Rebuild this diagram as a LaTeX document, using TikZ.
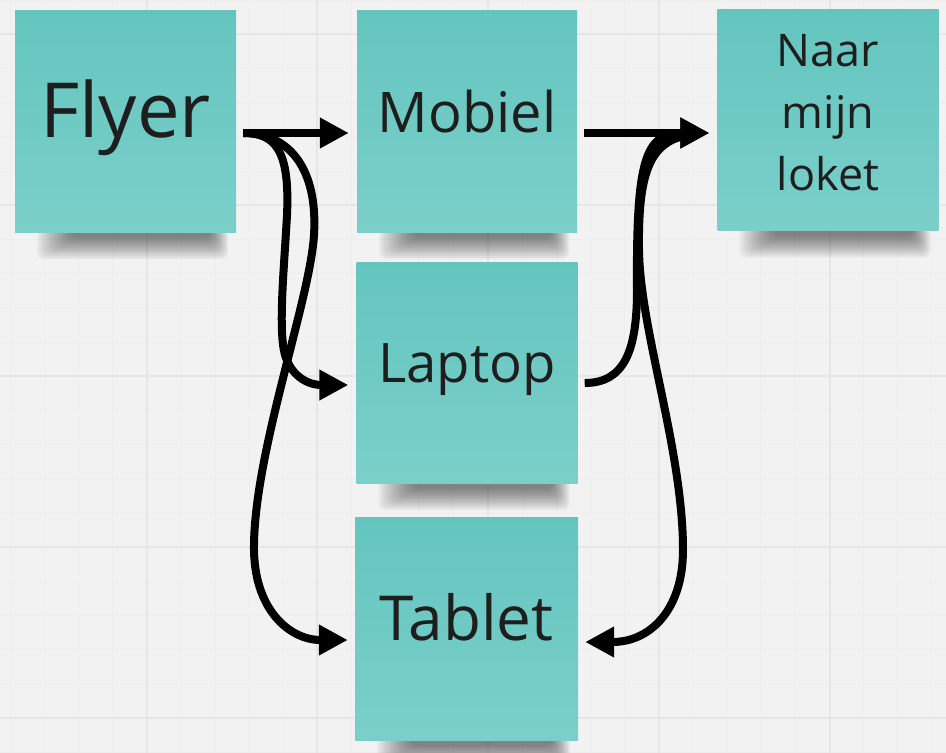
\documentclass[tikz,border=0pt]{standalone}
\usepackage{fontspec}
\setmainfont{Open Sans}
\usetikzlibrary{arrows.meta}
\pgfdeclarelayer{back}
\pgfdeclarelayer{shadowlayer}
\pgfsetlayers{back,shadowlayer,main}
\definecolor{bg}{HTML}{F2F2F2}
\definecolor{gridminor}{HTML}{EDEDED}
\definecolor{gridmajor}{HTML}{E6E6E6}
\definecolor{notetop}{HTML}{64C5BF}
\definecolor{notebot}{HTML}{7BCFC9}
\definecolor{ink}{HTML}{1E1E1E}
\begin{document}
\begin{tikzpicture}[x=1pt,y=-1pt,
  note/.style={shade, top color=notetop, bottom color=notebot, inner sep=0pt, text=ink},
  shadowpiece/.style={fill=black, fill opacity=0.034, rounded corners=7pt},
  conn/.style={line width=8pt, draw=black, -{Triangle[length=29pt,width=29pt]}},
  gminor/.style={draw=gridminor, line width=1pt},
  gmajor/.style={draw=gridmajor, line width=1.5pt}]
\useasboundingbox (0,0) rectangle (946,753);
\begin{pgfonlayer}{back}
\fill[bg] (0,0) rectangle (946,753);
\foreach \i in {0,...,27} \draw[gminor] ({10.6+34.1*\i},0) -- ++(0,753);
\foreach \i in {0,...,22} \draw[gminor] (0,{34.2*\i}) -- ++(946,0);
\foreach \x in {147,317,488,659,830} \draw[gmajor] (\x,0) -- (\x,753);
\foreach \y in {34,205,376,547,718} \draw[gmajor] (0,\y) -- (946,\y);
\end{pgfonlayer}

\node[note, minimum width=221pt, minimum height=222pt, font=\fontsize{76}{80}\selectfont,
  text height=32pt, text depth=0pt] (flyer) at (125.5,121) {Flyer};
\node[note, minimum width=220pt, minimum height=222pt, font=\fontsize{56}{62}\selectfont,
  text height=22pt, text depth=0pt] (mobiel) at (467,121) {Mobiel};
\node[note, minimum width=221pt, minimum height=221pt, font=\fontsize{45}{62}\selectfont,
  align=center, text height=140pt, text depth=0pt] (naar) at (828,120) {Naar\\mijn\\loket};
\node[note, minimum width=221pt, minimum height=221pt, font=\fontsize{54.5}{60}\selectfont,
  text height=19pt, text depth=0pt] (laptop) at (467,372.5) {Laptop};
\node[note, minimum width=223pt, minimum height=223pt, font=\fontsize{62}{68}\selectfont,
  text height=23pt, text depth=0pt] (tablet) at (466.5,628.5) {Tablet};

\begin{pgfonlayer}{shadowlayer}
\foreach \n in {flyer,mobiel,naar,laptop,tablet}
  \foreach \k in {0,...,15}
    \fill[shadowpiece] ([shift={({22+2.3*\k},-4)}]\n.south west)
      rectangle ([shift={({-8-1.2*\k},{27-1.45*\k})}]\n.south east);
\end{pgfonlayer}

\coordinate (fo) at ([shift={(7,12)}]flyer.east);
\coordinate (mi) at ([shift={(-8,12)}]mobiel.west);
\coordinate (mo) at ([shift={(7,12)}]mobiel.east);
\coordinate (li) at ([shift={(-8,12.5)}]laptop.west);
\coordinate (lo) at ([shift={(7,10.5)}]laptop.east);
\coordinate (ni) at ([shift={(-8,13)}]naar.west);
\coordinate (ns) at ([shift={(-18,14)}]naar.west);
\coordinate (ti) at ([shift={(-7,11.5)}]tablet.west);
\coordinate (te) at ([shift={(7,13.5)}]tablet.east);

\draw[conn] (fo) -- (mi);
\draw[conn] (mo) -- (ni);
\draw[conn] (fo) .. controls +(32,0) and (290,150) .. (287,215)
  .. controls (284,270) and (278,330) .. (285,355)
  .. controls (292,378) and (310,385) .. (li);
\draw[conn] (fo) .. controls +(47,0) and (318,170) .. (314,235)
  .. controls (310,300) and (255,450) .. (254,545)
  .. controls (253,610) and (290,640) .. (ti);
\draw[conn] (lo) .. controls +(40,0) and (637,350) .. (637,290)
  .. controls (636,160) and (645,133) .. (ni);
\draw[conn] (ns) .. controls (650,136) and (638,170) .. (639,250)
  .. controls (640,330) and (683,450) .. (683,550)
  .. controls (683,610) and (650,642) .. (te);
\end{tikzpicture}
\end{document}
